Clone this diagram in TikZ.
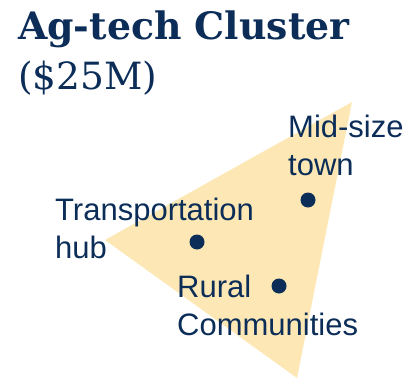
\documentclass[tikz,border=0pt]{standalone}
\usepackage{fontspec}
\setmainfont{DejaVu Serif}
\newfontfamily\labelfont{Liberation Sans}
\usepackage{tikz}

\definecolor{clusternavy}{HTML}{0B2D57}
\definecolor{clusterfill}{HTML}{FDE8B5}

\begin{document}
\begin{tikzpicture}[x=1pt, y=-1pt,
    town/.style={circle, fill=clusternavy, inner sep=0pt, minimum size=15pt},
    place/.style={anchor=base west, inner sep=0pt, align=left, text=clusternavy,
                  font=\labelfont\fontsize{31}{38}\selectfont}]

% fix the page size
\useasboundingbox (0, 0) rectangle (411, 382);

% draw title
\node[anchor=base west, inner sep=0pt, text=clusternavy, font=\bfseries\fontsize{37.8}{44}\selectfont] (title) at (18, 40) {Ag-tech Cluster};
\node[anchor=base west, inner sep=0pt, text=clusternavy, font=\fontsize{37.5}{44}\selectfont] (budget) at (18, 90) {(\$25M)};

% draw triangle
\coordinate (top) at (352, 102);
\coordinate (left) at (105, 240);
\coordinate (bottom) at (297, 378);
\fill[clusterfill] (top) -- (left) -- (bottom) -- cycle;

% draw towns
\node[town] (midsize) at (308, 200) {};
\node[town] (hub) at (197, 242) {};
\node[town] (rural) at (279, 286) {};

% draw labels (anchored at the baseline of the last line)
\node[place] (midsizelabel) at (288, 175) {Mid-size\\town};
\node[place] (hublabel) at (55, 258) {Transportation\\hub};
\node[place] (rurallabel) at (177, 335) {Rural\\Communities};

\end{tikzpicture}
\end{document}
